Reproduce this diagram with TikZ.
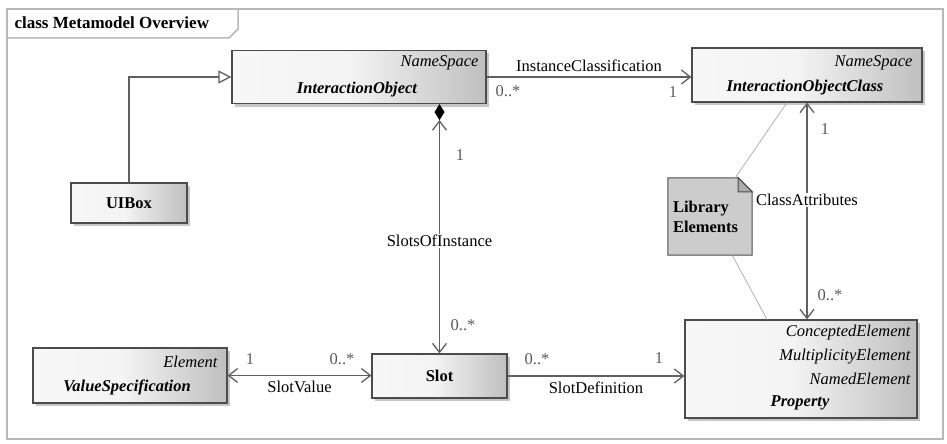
\documentclass[tikz,border=0pt]{standalone}
\usepackage{fontspec}
\setmainfont{Liberation Serif}
\usetikzlibrary{arrows.meta,positioning,calc,shadows}

\pgfdeclarehorizontalshading{umlshade}{100bp}{color(0bp)=(gray!6); color(25bp)=(gray!6); color(48bp)=(gray!9); color(75bp)=(gray!50); color(100bp)=(gray!50)}

\begin{document}
\begin{tikzpicture}[x=1pt,y=-1pt,
        font=\fontsize{16.5}{21}\selectfont,
        vee/.tip={Straight Barb[length=9pt,width=14pt]},
        umlbox/.style={draw=gray!60!black, line width=1.2pt, shade, shading=umlshade,
            drop shadow={shadow xshift=3pt, shadow yshift=-3pt, opacity=0.45}, inner sep=0pt},
        conn/.style={draw=gray!75!black, line width=1.3pt},
        mult/.style={text=gray!70!black, inner sep=1pt},
        stereo/.style={font=\fontsize{16.5}{21}\selectfont\itshape, anchor=east, inner sep=0pt},
        cname/.style={font=\fontsize{16.5}{21}\selectfont\bfseries\itshape, inner sep=0pt},
        plainname/.style={font=\fontsize{16.5}{21}\selectfont\bfseries, inner sep=0pt}]
        \useasboundingbox (0,0) rectangle (947,444);

        % Diagram frame
        \draw[gray!55, line width=2pt] (7,9) rectangle (943,439);
        \node[anchor=west, font=\fontsize{17}{21}\selectfont\bfseries] (title) at (11,23) {class Metamodel Overview};
        \draw[gray!55, line width=1.5pt] (7,38) -- (229,38) -- (238,29) -- (238,9);

        % Classes
        \node[umlbox, minimum width=254, minimum height=53] (io) at (359,77) {};
        \node[stereo] (iostereo) at ($(io.north east)+(-8,13)$) {NameSpace};
        \node[cname] (ioname) at ($(io.center)+(-2,13)$) {InteractionObject};

        \node[umlbox, minimum width=230, minimum height=54] (ioc) at (807,75) {};
        \node[stereo] (iocstereo) at ($(ioc.north east)+(-10,15)$) {NameSpace};
        \node[cname] (iocname) at ($(ioc.center)+(-2,13)$) {InteractionObjectClass};

        \node[umlbox, minimum width=116, minimum height=40] (uibox) at (129,203) {};
        \node[plainname] (uiboxname) at (uibox.center) {UIBox};

        \node[umlbox, minimum width=194, minimum height=55] (vs) at (130,375.5) {};
        \node[stereo] (vsstereo) at ($(vs.north east)+(-10,14)$) {Element};
        \node[cname] (vsname) at ($(vs.center)+(-3,12)$) {ValueSpecification};

        \node[umlbox, minimum width=135, minimum height=44] (slot) at (439.5,376) {};
        \node[plainname] (slotname) at (slot.center) {Slot};

        \node[umlbox, minimum width=232, minimum height=98] (prop) at (801,369) {};
        \node[stereo] (propstereoa) at ($(prop.north east)+(-7,13)$) {ConceptedElement};
        \node[stereo] (propstereob) at ($(prop.north east)+(-7,37)$) {MultiplicityElement};
        \node[stereo] (propstereoc) at ($(prop.north east)+(-7,59)$) {NamedElement};
        \node[cname] (propname) at ($(prop.center)+(-1,34)$) {Property};

        % Note
        \node[minimum width=84, minimum height=77, inner sep=0pt] (note) at (710,216.5) {};
        \draw[draw=gray!60!black, fill=gray!40, line width=1pt] (note.north west) -- ($(note.north east)+(-14,0)$)
            -- ($(note.north east)+(0,14)$) -- (note.south east) -- (note.south west) -- cycle;
        \draw[draw=gray!60!black, fill=gray!65, line width=1pt] ($(note.north east)+(-14,0)$)
            -- ($(note.north east)+(-14,14)$) -- ($(note.north east)+(0,14)$) -- cycle;
        \node[anchor=west, align=left, font=\fontsize{16.5}{20}\selectfont\bfseries, inner sep=0pt] (notetext)
            at ($(note.west)+(5,0)$) {Library\\Elements};
        \draw[gray!60, line width=0.8pt] ($(note.north east)+(-17,0)$) -- ($(ioc.south)+(-20,0)$);
        \draw[gray!60, line width=0.8pt] ($(note.south east)+(-20,0)$) -- ($(prop.north)+(-34,0)$);

        % Generalization
        \draw[conn, -{Triangle[open, length=13pt, width=13pt, fill=white]}] (uibox.north) |- (io.west);

        % Associations
        \draw[conn, -vee] (io.east) -- (io.east -| ioc.west)
            node[midway, above=1pt] (iclabel) {InstanceClassification};
        \node[mult] (icfrom) at (508,91) {0..*};
        \node[mult] (icto) at (673,92) {1};

        \draw[conn, {vee[]}-{vee[]Diamond[length=16pt, width=10pt, black]}] (slot.north) -- (slot.north |- io.south)
            node[pos=0.45, fill=white, inner sep=1pt] (soilabel) {SlotsOfInstance};
        \node[mult] (soito) at (460,155) {1};
        \node[mult] (soifrom) at (463,325) {0..*};

        \draw[conn, vee-vee] (ioc.south) -- (ioc.south |- prop.north)
            node[pos=0.45, fill=white, inner sep=1pt] (calabel) {ClassAttributes};
        \node[mult] (cato) at (825,129) {1};
        \node[mult] (cafrom) at (830,295) {0..*};

        \draw[conn, vee-vee] (vs.east) -- (vs.east -| slot.west)
            node[midway, below=2pt] (svlabel) {SlotValue};
        \node[mult] (svto) at (250,359) {1};
        \node[mult] (svfrom) at (342,359) {0..*};

        \draw[conn, -vee] (slot.east) -- (slot.east -| prop.west)
            node[midway, below=2pt] (sdlabel) {SlotDefinition};
        \node[mult] (sdfrom) at (537,359) {0..*};
        \node[mult] (sdto) at (659,358) {1};
\end{tikzpicture}
\end{document}
